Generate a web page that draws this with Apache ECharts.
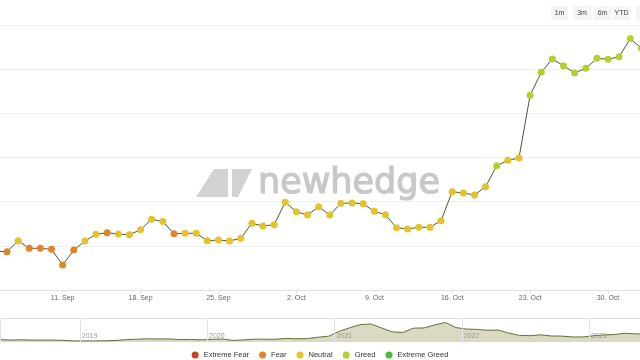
<!DOCTYPE html>
<html><head><meta charset="utf-8">
<script src="https://cdn.jsdelivr.net/npm/echarts@6/dist/echarts.min.js"></script>
<style>html,body{margin:0;padding:0;background:#fff}#c{width:640px;height:360px}</style>
</head><body><div id="c"></div>
<script>
const categories = ['5. Sep','6. Sep','7. Sep','8. Sep','9. Sep','10. Sep','11. Sep','12. Sep','13. Sep','14. Sep','15. Sep','16. Sep','17. Sep','18. Sep','19. Sep','20. Sep','21. Sep','22. Sep','23. Sep','24. Sep','25. Sep','26. Sep','27. Sep','28. Sep','29. Sep','30. Sep',
'1. Oct','2. Oct','3. Oct','4. Oct','5. Oct','6. Oct','7. Oct','8. Oct','9. Oct','10. Oct','11. Oct','12. Oct','13. Oct','14. Oct','15. Oct','16. Oct','17. Oct','18. Oct','19. Oct','20. Oct','21. Oct','22. Oct','23. Oct','24. Oct','25. Oct','26. Oct','27. Oct','28. Oct','29. Oct','30. Oct','31. Oct','1. Nov','2. Nov'];
const prices = [25760,25734,26232,25888,25888,25843,25132,25811,26219,26522,26595,26536,26504,26730,27201,27102,26549,26567,26567,26232,26264,26219,26341,27020,26898,26957,
27971,27545,27396,27772,27396,27926,27939,27908,27564,27410,26821,26762,26839,26839,27138,28451,28392,28302,28677,29628,29873,29977,32816,33858,34460,34156,33826,34039,34491,34446,34564,35379,34944];
const sentiment = ['Fear','Fear','Neutral','Fear','Fear','Fear','Fear','Fear','Neutral','Neutral','Fear','Neutral','Neutral','Neutral','Neutral','Neutral','Fear',
'Neutral','Neutral','Neutral','Neutral','Neutral','Neutral','Neutral','Neutral','Neutral',
'Neutral','Neutral','Neutral','Neutral','Neutral','Neutral','Neutral','Neutral','Neutral','Neutral','Neutral','Neutral','Neutral','Neutral','Neutral','Neutral','Neutral','Neutral','Neutral',
'Greed','Neutral','Neutral','Greed','Greed','Greed','Greed','Greed','Greed','Greed','Greed','Greed','Greed','Greed'];
const sentimentNames = ['Extreme Fear','Fear','Neutral','Greed','Extreme Greed'];
const sentimentColors = ['#c4472b','#e0862a','#e3c22c','#b6cf2e','#4cbb3a'];
const tickLabels = ['11. Sep','18. Sep','25. Sep','2. Oct','9. Oct','16. Oct','23. Oct','30. Oct'];
const yMin = 24000, yMax = 36000, yStep = 2000;

const navDates = ['2018-05-15','2018-06-15','2018-07-15','2018-08-15','2018-09-15','2018-10-15','2018-11-15','2018-12-15',
'2019-01-15','2019-02-15','2019-03-15','2019-04-15','2019-05-15','2019-06-15','2019-07-15','2019-08-15','2019-09-15','2019-10-15','2019-11-15','2019-12-15',
'2020-01-15','2020-02-15','2020-03-15','2020-04-15','2020-05-15','2020-06-15','2020-07-15','2020-08-15','2020-09-15','2020-10-15','2020-11-15','2020-12-15',
'2021-01-15','2021-02-15','2021-03-15','2021-04-15','2021-05-15','2021-06-15','2021-07-15','2021-08-15','2021-09-15','2021-10-15','2021-11-15','2021-12-15',
'2022-01-15','2022-02-15','2022-03-15','2022-04-15','2022-05-15','2022-06-15','2022-07-15','2022-08-15','2022-09-15','2022-10-15','2022-11-15','2022-12-15',
'2023-01-15','2023-02-15','2023-03-15','2023-04-15','2023-05-15','2023-06-15','2023-07-15','2023-08-15','2023-09-15','2023-10-15','2023-11-02'];
const navPrices = [8200,6500,7400,6400,6500,6450,5500,3600,
3600,3700,4000,5200,7900,9300,10500,10300,10200,8300,8500,7200,
8700,9900,5400,7000,9300,9400,9200,11800,10700,11500,16000,19400,
36000,48000,58000,60000,47000,34000,31500,46000,47000,57000,65000,48000,
43000,42000,39000,40000,30000,22000,21000,24000,20000,19500,16800,16800,
21000,23500,25000,29000,27000,26000,30000,29000,26500,28500,34900];
const rangeButtons = ['1m','3m','6m','YTD','1y'];

const chart = echarts.init(document.getElementById('c'), null, {renderer: 'canvas'});

const scatterSeries = sentimentNames.map((name, k) => ({
  name: name,
  type: 'scatter',
  xAxisIndex: 0, yAxisIndex: 0,
  symbol: 'circle',
  symbolSize: 7,
  itemStyle: {color: sentimentColors[k], opacity: 1},
  data: prices.map((p, i) => sentiment[i] === name ? p : '-'),
  z: 4,
  silent: true
}));

const btnX = [551, 573, 594, 613, 636];
const btnW = [17, 18, 17, 17, 18];
const buttons = rangeButtons.map((t, i) => ({
  type: 'group',
  children: [
    {type: 'rect', shape: {x: btnX[i], y: 6, width: btnW[i], height: 14, r: 1}, style: {fill: '#f5f5f5'}},
    {type: 'text', style: {x: btnX[i] + btnW[i] / 2, y: 13, text: t, fill: '#444', font: '7px "Liberation Sans", sans-serif', align: 'center', verticalAlign: 'middle'}}
  ]
}));

chart.setOption({
  animation: false,
  backgroundColor: '#ffffff',
  grid: [
    {left: -4.13, right: -1.4, top: 25, bottom: 70, outerBoundsMode: 'none', containLabel: false},
    {left: 0, right: 0, top: 318, height: 24, outerBoundsMode: 'none', containLabel: false}
  ],
  xAxis: [
    {
      type: 'category', gridIndex: 0, data: categories, boundaryGap: false,
      axisLine: {lineStyle: {color: '#dfe3ea', width: 1}},
      axisTick: {show: true, length: 4, lineStyle: {color: '#dfe3ea'}, interval: (i, v) => tickLabels.includes(v)},
      axisLabel: {interval: (i, v) => tickLabels.includes(v), color: '#666', fontSize: 7, margin: 5, fontFamily: 'Liberation Sans'},
      splitLine: {show: false}
    },
    {
      type: 'time', gridIndex: 1, min: '2018-05-17', max: '2023-05-27', z: 5,
      minInterval: 365 * 24 * 3600 * 1000,
      axisLine: {show: false}, axisTick: {show: false},
      axisLabel: {inside: true, formatter: '{yyyy}', color: '#999', fontSize: 7, align: 'left', margin: 2, padding: [0, 0, 0, 2], fontFamily: 'Liberation Sans', showMinLabel: false},
      splitLine: {show: true, lineStyle: {color: '#e3e3e3', width: 1}}
    },
    {
      type: 'time', gridIndex: 1, position: 'top', min: '2018-05-17', max: '2023-05-27',
      axisLine: {show: true, onZero: false, lineStyle: {color: '#e3e3e3'}}, axisTick: {show: false}, axisLabel: {show: false}, splitLine: {show: false}
    }
  ],
  yAxis: [
    {
      type: 'value', gridIndex: 0, min: yMin, max: yMax, interval: yStep,
      axisLine: {show: false}, axisTick: {show: false}, axisLabel: {show: false},
      splitLine: {lineStyle: {color: '#efefef', width: 1}}
    },
    {
      type: 'value', gridIndex: 1, min: 0, max: 80000,
      axisLine: {show: false}, axisTick: {show: false}, axisLabel: {show: false}, splitLine: {show: false}
    }
  ],
  legend: {
    data: sentimentNames,
    left: 'center', top: 346,
    icon: 'circle', itemWidth: 7, itemHeight: 7, itemGap: 10,
    textStyle: {fontSize: 7.5, color: '#333', fontWeight: 'normal', fontFamily: 'Liberation Sans'},
    selectedMode: false
  },
  graphic: [
    {type: 'polygon', z: 0, shape: {points: [[196, 197], [214, 169], [228, 169], [228, 197]]}, style: {fill: '#d3d3d3'}},
    {type: 'polygon', z: 0, shape: {points: [[232, 197], [232, 169], [252, 169], [238, 197]]}, style: {fill: '#d3d3d3'}},
    {type: 'text', z: 0, style: {x: 258, y: 184, text: 'newhedge', fill: '#c8c8c8', stroke: '#c8c8c8', lineWidth: 1.2, font: '35px "DejaVu Sans", sans-serif', verticalAlign: 'middle'}},
    ...buttons
  ],
  series: [
    {
      name: 'Price', type: 'line', xAxisIndex: 0, yAxisIndex: 0,
      data: prices, showSymbol: false, symbol: 'none',
      lineStyle: {color: '#4b5a2e', width: 1}, z: 3, silent: true
    },
    ...scatterSeries,
    {
      name: 'Navigator', type: 'line', xAxisIndex: 1, yAxisIndex: 1,
      data: navDates.map((d, i) => [d, navPrices[i]]),
      showSymbol: false, symbol: 'none',
      lineStyle: {color: '#5f7039', width: 1},
      areaStyle: {color: '#dbd9c2', opacity: 1},
      z: 1, silent: true
    }
  ]
});
</script></body></html>
